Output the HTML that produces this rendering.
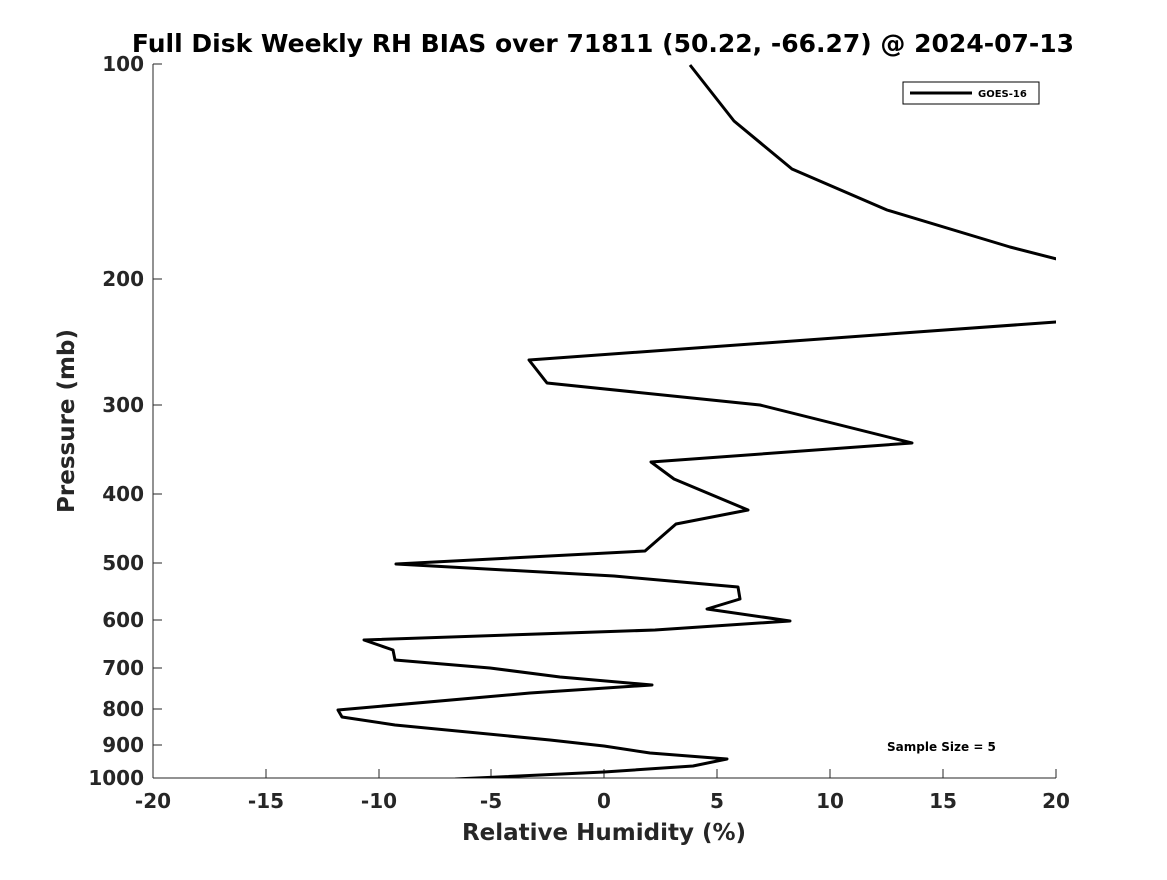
<!DOCTYPE html>
<html><head><style>body{margin:0;background:#fff}</style></head><body>
<svg width="1167" height="875" xmlns="http://www.w3.org/2000/svg" font-family="DejaVu Sans, Liberation Sans, sans-serif" font-weight="bold">
<rect width="1167" height="875" fill="#fff"/>
<defs><clipPath id="c"><rect x="153" y="64" width="903" height="714"/></clipPath></defs>
<g stroke="#262626" stroke-width="1">
<line x1="153" y1="64" x2="153" y2="778"/>
<line x1="153" y1="778" x2="1056" y2="778"/>
</g>
<g stroke="#262626" stroke-width="1">
<line x1="153" y1="778" x2="153" y2="769"/><line x1="266" y1="778" x2="266" y2="769"/><line x1="379" y1="778" x2="379" y2="769"/><line x1="491" y1="778" x2="491" y2="769"/><line x1="604" y1="778" x2="604" y2="769"/><line x1="717" y1="778" x2="717" y2="769"/><line x1="830" y1="778" x2="830" y2="769"/><line x1="943" y1="778" x2="943" y2="769"/><line x1="1056" y1="778" x2="1056" y2="769"/>
<line x1="153" y1="64" x2="162" y2="64"/><line x1="153" y1="279" x2="162" y2="279"/><line x1="153" y1="405" x2="162" y2="405"/><line x1="153" y1="494" x2="162" y2="494"/><line x1="153" y1="563" x2="162" y2="563"/><line x1="153" y1="620" x2="162" y2="620"/><line x1="153" y1="668" x2="162" y2="668"/><line x1="153" y1="709" x2="162" y2="709"/><line x1="153" y1="745" x2="162" y2="745"/><line x1="153" y1="778" x2="162" y2="778"/>
</g>
<g font-size="20" fill="#262626" text-anchor="middle">
<text x="153" y="808">-20</text><text x="266" y="808">-15</text><text x="379" y="808">-10</text><text x="491" y="808">-5</text><text x="604" y="808">0</text><text x="717" y="808">5</text><text x="830" y="808">10</text><text x="943" y="808">15</text><text x="1056" y="808">20</text>
</g>
<g font-size="20" fill="#262626" text-anchor="end">
<text x="144" y="71">100</text><text x="144" y="286">200</text><text x="144" y="412">300</text><text x="144" y="501">400</text><text x="144" y="570">500</text><text x="144" y="627">600</text><text x="144" y="675">700</text><text x="144" y="716">800</text><text x="144" y="752">900</text><text x="144" y="785">1000</text>
</g>
<text x="604" y="840" font-size="23" fill="#262626" text-anchor="middle">Relative Humidity (%)</text>
<text transform="translate(74,421) rotate(-90)" font-size="23" fill="#262626" text-anchor="middle">Pressure (mb)</text>
<text x="603" y="52" font-size="25" fill="#000" text-anchor="middle">Full Disk Weekly RH BIAS over 71811 (50.22, -66.27) @ 2024-07-13</text>
<g clip-path="url(#c)" fill="none" stroke="#000" stroke-width="3" stroke-linejoin="round">
<polyline points="690,65 734,121 792,169 887,210 1010,247 1080,265"/>
<polyline points="1080,321 1056,322 529,360 547,383 760,405 912,443 651,462 674,479 748,510 676,524 645,551 396,564 614,576 738,587 740,599 707,609 790,621 655,630 364,640 393,650 395,660 490,668 560,677 652,685 530,693 338,710 342,717 395,725 550,740 604,746 650,753 727,759 693,766 604,772 455,779"/>
</g>
<rect x="903" y="82" width="136" height="22" fill="#fff" stroke="#000" stroke-width="1"/>
<line x1="910" y1="93" x2="972" y2="93" stroke="#000" stroke-width="3"/>
<text x="978" y="97" font-size="10" fill="#000">GOES-16</text>
<text x="887" y="751" font-size="12" fill="#000">Sample Size = 5</text>
</svg>
</body></html>
